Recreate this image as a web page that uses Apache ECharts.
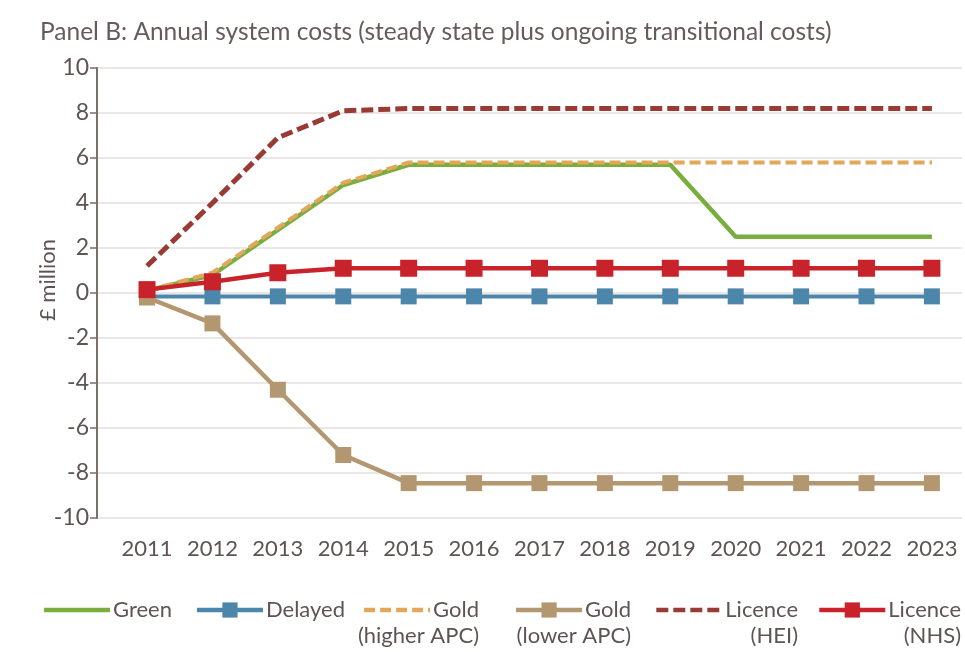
<!DOCTYPE html>
<html>
<head>
<meta charset="utf-8">
<script src="https://cdn.jsdelivr.net/npm/echarts@6/dist/echarts.min.js"></script>
<style>
  html, body { margin: 0; padding: 0; background: #fff; }
  #chart { width: 965px; height: 652px; }
</style>
</head>
<body>
<div id="chart"></div>
<script>
// Years on the x axis
const years = [2011, 2012, 2013, 2014, 2015, 2016, 2017, 2018, 2019, 2020, 2021, 2022, 2023];

// Annual system costs, £ million
const green        = [0.1, 0.8, 2.8, 4.8, 5.7, 5.7, 5.7, 5.7, 5.7, 2.5, 2.5, 2.5, 2.5];
const delayed      = [-0.15, -0.15, -0.15, -0.15, -0.15, -0.15, -0.15, -0.15, -0.15, -0.15, -0.15, -0.15, -0.15];
const goldHigher   = [0.1, 0.9, 2.9, 4.9, 5.8, 5.8, 5.8, 5.8, 5.8, 5.8, 5.8, 5.8, 5.8];
const goldLower    = [-0.2, -1.35, -4.3, -7.2, -8.45, -8.45, -8.45, -8.45, -8.45, -8.45, -8.45, -8.45, -8.45];
const licenceHEI   = [1.2, 4.0, 6.9, 8.1, 8.2, 8.2, 8.2, 8.2, 8.2, 8.2, 8.2, 8.2, 8.2];
const licenceNHS   = [0.15, 0.5, 0.9, 1.1, 1.1, 1.1, 1.1, 1.1, 1.1, 1.1, 1.1, 1.1, 1.1];

// Series names: first line goes into the legend, second line sits underneath
const seriesNames = ['Green', 'Delayed', 'Gold\n(higher APC)', 'Gold\n(lower APC)', 'Licence\n(HEI)', 'Licence\n(NHS)'];
// right edge of each legend entry
const legendRight = [172, 345, 479, 631, 798, 961];

const textColor = '#5e5453';
const fontFamily = 'Lato, "Open Sans", sans-serif';
const fontSize = 22;

function pairs(values) {
    return years.map((y, i) => [y, values[i]]);
}

const noMarker = { 'Green': true, 'Gold\n(higher APC)': true, 'Licence\n(HEI)': true };

// one legend per entry so each can be placed by its right edge
const legends = seriesNames.map((name, i) => ({
    right: 965 - legendRight[i],
    top: 597,
    padding: 0,
    itemWidth: 66,
    itemHeight: 19,
    lineStyle: { width: 4.5 },
    data: [noMarker[name] ? { name: name, itemStyle: { opacity: 0 } } : { name: name }],
    formatter: n => n.split('\n')[0],
    textStyle: { color: textColor, fontSize: fontSize, fontFamily: fontFamily, lineHeight: 26, padding: [0, 0, 0, -2] }
}));

// second lines of the two-line legend names
const legendSubs = seriesNames.map((name, i) => {
    const parts = name.split('\n');
    if (parts.length < 2) return null;
    return {
        type: 'text',
        right: 965 - legendRight[i],
        top: 625,
        style: { text: parts[1], fill: textColor, font: fontSize + 'px ' + fontFamily }
    };
}).filter(Boolean);

const chart = echarts.init(document.getElementById('chart'));

const option = {
    backgroundColor: '#fff',
    animation: false,
    title: {
        text: 'Panel B: Annual system costs (steady state plus ongoing transitional costs)',
        left: 35,
        top: 15,
        textStyle: { color: '#655b5a', fontSize: 24.5, fontWeight: 'normal', fontFamily: fontFamily }
    },
    grid: { left: 97, right: 3, top: 68, bottom: 134 },
    legend: legends,
    graphic: legendSubs,
    xAxis: {
        type: 'value',
        min: 2010.235,
        max: 2023.46,
        axisLine: { show: false },
        axisTick: { show: false },
        splitLine: { show: false },
        axisLabel: {
            customValues: years,
            color: textColor,
            fontSize: fontSize,
            fontFamily: fontFamily,
            margin: 20,
            formatter: v => String(v)
        }
    },
    yAxis: {
        type: 'value',
        min: -10,
        max: 10,
        interval: 2,
        name: '£ million',
        nameLocation: 'middle',
        nameGap: 38,
        nameMoveOverlap: false,
        nameTextStyle: { color: textColor, fontSize: fontSize, fontFamily: fontFamily, padding: [0, 0, 0, 26] },
        axisLine: { show: true, lineStyle: { color: '#7b6f6c', width: 2 } },
        axisTick: { show: true, length: 7, lineStyle: { color: '#7b6f6c', width: 1.5 } },
        axisLabel: { color: textColor, fontSize: 23, fontFamily: fontFamily, margin: 8 },
        splitLine: { show: true, lineStyle: { color: '#e5dfdf', width: 1.5 } }
    },
    series: [
        {
            name: seriesNames[0],
            type: 'line',
            data: pairs(green),
            symbol: 'none',
            lineStyle: { color: '#79ae3f', width: 4.5 },
            itemStyle: { color: '#79ae3f' },
            z: 2
        },
        {
            name: seriesNames[1],
            type: 'line',
            data: pairs(delayed),
            symbol: 'rect',
            symbolSize: 16,
            lineStyle: { color: '#4d86ab', width: 4 },
            itemStyle: { color: '#4d86ab' },
            z: 2
        },
        {
            name: seriesNames[2],
            type: 'line',
            data: pairs(goldHigher),
            symbol: 'none',
            lineStyle: { color: '#e2a75a', width: 4, type: [11, 5] },
            itemStyle: { color: '#e2a75a' },
            z: 3
        },
        {
            name: seriesNames[3],
            type: 'line',
            data: pairs(goldLower),
            symbol: 'rect',
            symbolSize: 16,
            lineStyle: { color: '#b39770', width: 4.5 },
            itemStyle: { color: '#b39770' },
            z: 3
        },
        {
            name: seriesNames[4],
            type: 'line',
            data: pairs(licenceHEI),
            symbol: 'none',
            lineStyle: { color: '#9a3a35', width: 5, type: [12, 5] },
            itemStyle: { color: '#9a3a35' },
            z: 4
        },
        {
            name: seriesNames[5],
            type: 'line',
            data: pairs(licenceNHS),
            symbol: 'rect',
            symbolSize: 17,
            lineStyle: { color: '#c8222b', width: 4.5 },
            itemStyle: { color: '#c8222b' },
            z: 5
        }
    ]
};

chart.setOption(option);
</script>
</body>
</html>
